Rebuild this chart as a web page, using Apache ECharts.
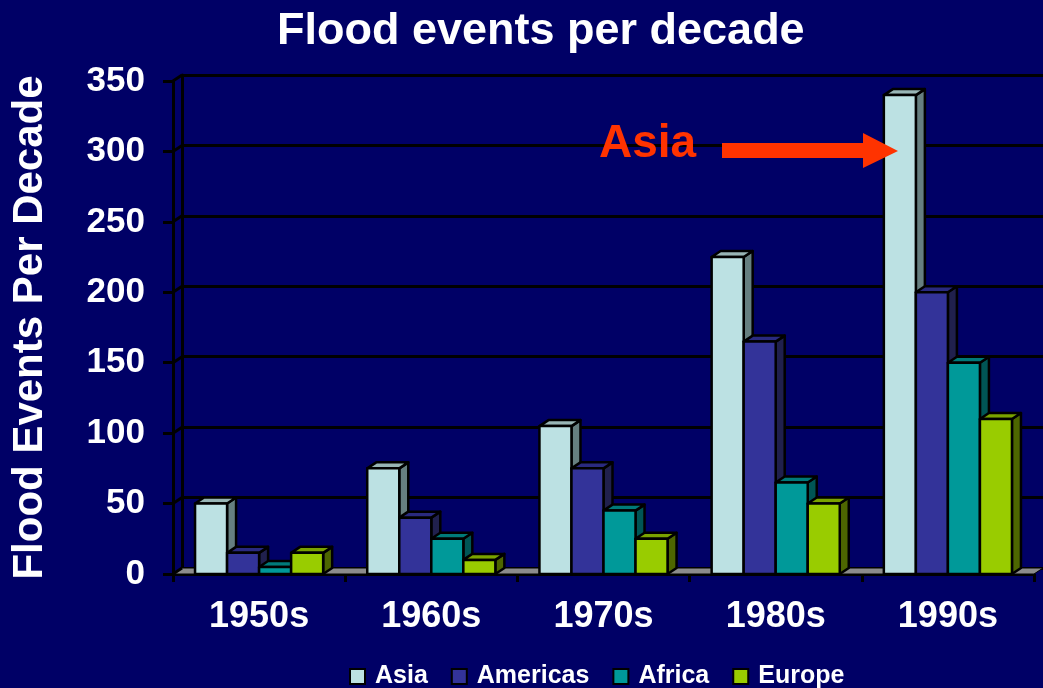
<!DOCTYPE html>
<html>
<head>
<meta charset="utf-8">
<script src="https://cdn.jsdelivr.net/npm/echarts@6/dist/echarts.min.js"></script>
<style>
	html, body { margin: 0; padding: 0; background: #000066; }
	#flood { width: 1043px; height: 688px; }
</style>
</head>
<body>
<div id="flood"></div>
<script>
	// values
	var categories = ['1950s', '1960s', '1970s', '1980s', '1990s'];
	var asia = [50, 75, 105, 225, 340];
	var americas = [15, 40, 75, 165, 200];
	var africa = [5, 25, 45, 65, 150];
	var europe = [15, 10, 25, 50, 110];
	var yTicks = [0, 50, 100, 150, 200, 250, 300, 350];

	// depth of the fake 3d
	var DX = 9, DY = -6;
	var font = 'Liberation Sans, Arial, sans-serif';

	// front, top, side colour for each region
	var faces = {
		Asia: ['#BCE1E3', '#98B5B5', '#667F80'],
		Americas: ['#333399', '#2A2A80', '#20204D'],
		Africa: ['#009999', '#007A7A', '#005555'],
		Europe: ['#99CC00', '#7AA300', '#4D6600']
	};

	function barItem(slot, col) {
		return function (params, api) {
			var idx = api.value(0);
			var w = api.size([1, 0])[0] * 0.186;
			var base = api.coord([idx, 0]);
			var top = api.coord([idx, api.value(1)]);
			var x0 = base[0] - 2 * w + slot * w;
			var x1 = x0 + w;
			var yb = base[1], yt = top[1];
			function st(fill) {
				return { fill: fill, stroke: '#000', lineWidth: 2.5, lineJoin: 'round' };
			}
			return {
				type: 'group',
				children: [
					{ type: 'polygon', shape: { points: [[x1, yt], [x1 + DX, yt + DY], [x1 + DX, yb + DY], [x1, yb]] }, style: st(col[2]) },
					{ type: 'polygon', shape: { points: [[x0, yt], [x0 + DX, yt + DY], [x1 + DX, yt + DY], [x1, yt]] }, style: st(col[1]) },
					{ type: 'rect', shape: { x: x0, y: yt, width: w, height: yb - yt }, style: st(col[0]) }
				]
			};
		};
	}

	// floor and the little side wall lines
	function frameItem(params, api) {
		var cs = params.coordSys;
		var y0 = api.coord([0, 0])[1];
		var kids = [{
			type: 'polygon',
			shape: { points: [[cs.x, y0], [cs.x + cs.width, y0], [cs.x + cs.width + DX, y0 + DY], [cs.x + DX, y0 + DY]] },
			style: { fill: '#8C8C8C', stroke: '#000', lineWidth: 1 }
		}];
		yTicks.forEach(function (v) {
			var y = api.coord([0, v])[1];
			kids.push({
				type: 'line',
				shape: { x1: cs.x, y1: y, x2: cs.x + DX, y2: y + DY },
				style: { stroke: '#000', lineWidth: 3 }
			});
		});
		return { type: 'group', children: kids };
	}

	function mkSeries(name, vals, slot) {
		return {
			name: name,
			type: 'custom',
			xAxisIndex: 0,
			yAxisIndex: 0,
			itemStyle: { color: faces[name][0], borderColor: '#000', borderWidth: 2 },
			renderItem: barItem(slot, faces[name]),
			data: vals.map(function (v, i) { return [i, v]; }),
			z: 3
		};
	}

	var flood = echarts.init(document.getElementById('flood'));

	flood.setOption({
		backgroundColor: '#000066',
		animation: false,
		title: {
			text: 'Flood events per decade',
			left: 272,
			top: 4,
			textStyle: { color: '#fff', fontSize: 45, fontWeight: 'bold', fontFamily: font }
		},
		legend: {
			data: ['Asia', 'Americas', 'Africa', 'Europe'],
			left: 344,
			top: 659,
			icon: 'rect',
			itemWidth: 15,
			itemHeight: 15,
			itemGap: 23,
			itemStyle: { borderColor: '#000', borderWidth: 2 },
			textStyle: { color: '#fff', fontSize: 25, fontWeight: 'bold', fontFamily: font, padding: [0, 0, 0, 5] }
		},
		grid: [
			{ left: 173, top: 81, right: 9, bottom: 114, outerBoundsMode: 'none' },
			{ left: 182, top: 75, right: 0, bottom: 120, outerBoundsMode: 'none' }
		],
		xAxis: [{
			gridIndex: 0,
			type: 'category',
			data: categories,
			axisLine: { lineStyle: { color: '#000', width: 3 } },
			axisTick: { show: true, length: 8, lineStyle: { color: '#000', width: 3 } },
			axisLabel: { color: '#fff', fontSize: 36, fontWeight: 'bold', fontFamily: font, margin: 25 },
			splitLine: { show: false }
		}, {
			gridIndex: 1,
			type: 'category',
			data: categories,
			show: false
		}],
		yAxis: [{
			gridIndex: 0,
			type: 'value',
			min: 0,
			max: 350,
			interval: 50,
			name: 'Flood Events Per Decade',
			nameLocation: 'middle',
			nameRotate: 90,
			nameGap: 122,
			nameTextStyle: { color: '#fff', fontSize: 42, fontWeight: 'bold', fontFamily: font },
			axisLine: { show: true, lineStyle: { color: '#000', width: 3 } },
			axisTick: { show: true, length: 10, lineStyle: { color: '#000', width: 3 } },
			axisLabel: { color: '#fff', fontSize: 35, fontWeight: 'bold', fontFamily: font, margin: 28 },
			splitLine: { show: false }
		}, {
			gridIndex: 1,
			type: 'value',
			min: 0,
			max: 350,
			interval: 50,
			axisLine: { show: true, lineStyle: { color: '#000', width: 3 } },
			axisTick: { show: false },
			axisLabel: { show: false },
			splitLine: { show: true, lineStyle: { color: '#000', width: 3 } }
		}],
		series: [
			{
				name: 'frame',
				type: 'custom',
				xAxisIndex: 0,
				yAxisIndex: 0,
				silent: true,
				renderItem: frameItem,
				data: [[0, 0]],
				z: 1
			},
			mkSeries('Asia', asia, 0),
			mkSeries('Americas', americas, 1),
			mkSeries('Africa', africa, 2),
			mkSeries('Europe', europe, 3)
		],
		graphic: [
			{
				type: 'text',
				left: 599,
				top: 121,
				z: 100,
				style: { text: 'Asia', fill: '#FF3300', fontSize: 46, fontWeight: 'bold', fontFamily: font }
			},
			{
				type: 'polygon',
				z: 100,
				shape: { points: [[722, 143], [863, 143], [863, 133], [898, 151], [863, 168], [863, 158], [722, 158]] },
				style: { fill: '#FF3300' }
			}
		]
	});
</script>
</body>
</html>
